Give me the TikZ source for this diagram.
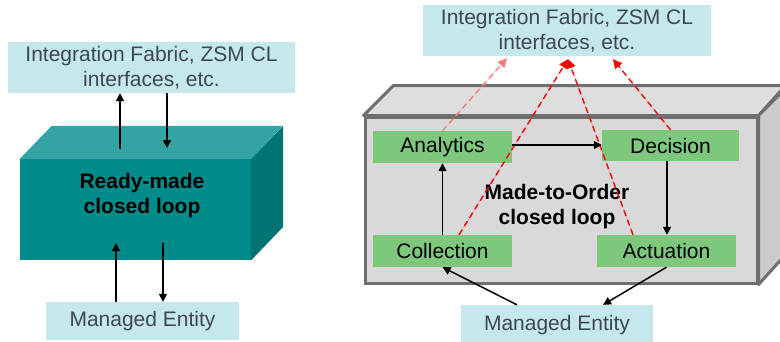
\documentclass[tikz,border=0pt]{standalone}
\usepackage{fontspec}
\setmainfont{Liberation Sans}
\usetikzlibrary{arrows.meta,calc}
\definecolor{fabricfill}{HTML}{C5E8EC}
\definecolor{fabrictext}{HTML}{3F4850}
\definecolor{tealfront}{HTML}{008B8B}
\definecolor{tealtop}{HTML}{33A3A3}
\definecolor{tealside}{HTML}{007373}
\definecolor{greyfront}{HTML}{D9D9D9}
\definecolor{greytop}{HTML}{DEDEDE}
\definecolor{greyside}{HTML}{CBCBCB}
\definecolor{greyedge}{HTML}{6F6F6F}
\definecolor{stagefill}{HTML}{7DC87D}
\definecolor{exposepink}{HTML}{FF7C7C}
\tikzset{
  every node/.style={font=\fontsize{21}{25}\selectfont},
  ifacebox/.style={
    fill=fabricfill,
    text=fabrictext,
    align=center,
    inner sep=0pt
  },
  stagebox/.style={
    fill=stagefill,
    text=black,
    inner sep=0pt,
    minimum width=139pt,
    minimum height=32pt
  },
  looplabel/.style={align=center, inner sep=0pt, font=\fontsize{21}{25}\selectfont\bfseries},
  flow/.style={line width=1.5pt, draw=black, -{Triangle[length=8pt,width=8pt]}},
  expose/.style={line width=1.4pt, draw=red, dash pattern=on 6pt off 4pt, -{Triangle[length=9pt,width=9pt]}}
}

\begin{document}
\begin{tikzpicture}[x=1pt,y=-1pt]
\clip (0,0) rectangle (780,341);
\fill[white] (0,0) rectangle (780,341);

% ready-made loop
\node[ifacebox, minimum width=287pt, minimum height=51pt] (rmfabric) at (151.5,67.5) {Integration Fabric, ZSM CL\\interfaces, etc.};
\node[fill=tealfront, inner sep=0pt, minimum width=231pt, minimum height=101pt] (rmloop) at (135.5,209.5) {};
\fill[tealtop] (rmloop.north west) -- ++(32,-33) -- ++(231,0) -- (rmloop.north east) -- cycle;
\fill[tealside] (rmloop.north east) -- ++(32,-33) -- ++(0,101) -- (rmloop.south east) -- cycle;
\node[looplabel] (rmlabel) at (142,196) {Ready-made\\closed loop};
\node[ifacebox, minimum width=193pt, minimum height=38pt] (rmentity) at (142.5,321) {Managed Entity};

\coordinate (rmout) at (120,149);
\coordinate (rmin) at (167,148);
\coordinate (rmsense) at (116,243);
\coordinate (rmact) at (163,243);
\draw[flow] (rmout) -- (rmout |- rmfabric.south);
\draw[flow] (rmin |- rmfabric.south) -- (rmin);
\draw[flow] (rmsense |- rmentity.north) -- (rmsense);
\draw[flow] (rmact) -- (rmact |- rmentity.north);

% made-to-order loop
\node[ifacebox, minimum width=288pt, minimum height=51pt] (mtfabric) at (567,30.5) {Integration Fabric, ZSM CL\\interfaces, etc.};
\node[draw=greyedge, fill=greyfront, line width=3pt, inner sep=0pt, minimum width=392pt, minimum height=166pt] (mtloop) at (561,200) {};
\filldraw[fill=greytop, draw=greyedge, line width=3pt, line join=round] (mtloop.north west) -- ++(30,-30) -- ++(392,0) -- (mtloop.north east) -- cycle;
\filldraw[fill=greyside, draw=greyedge, line width=3pt, line join=round] (mtloop.north east) -- ++(30,-30) -- ++(0,166) -- (mtloop.south east) -- cycle;
\node[looplabel] (mtlabel) at (557,207) {Made-to-Order\\closed loop};

\node[stagebox] (analytics) at (442.5,147) {Analytics};
\node[stagebox, minimum width=137pt, minimum height=31pt] (decision) at (670.5,145.5) {Decision};
\node[stagebox] (collect) at (442.5,251) {Collection};
\node[stagebox] (actuate) at (666.5,251) {Actuation};
\node[ifacebox, minimum width=192pt, minimum height=40pt] (mtentity) at (557,325) {Managed Entity};

\draw[expose, draw=exposepink, fill=exposepink] (analytics.north) -- ($(mtfabric.south)+(-60,2)$);
\draw[expose, fill=red] ($(collect.north)+(16.5,0)$) -- ($(mtfabric.south)+(1,3)$);
\draw[expose, fill=red] ($(actuate.north)+(-33.5,0)$) -- ($(mtfabric.south)+(1,3)$);
\draw[expose, fill=red] (decision.north) -- ($(mtfabric.south)+(46,3)$);

\draw[flow] (analytics.east |- 0,145) -- (decision.west |- 0,145);
\draw[flow] (decision.south -| 667,0) -- (actuate.north -| 667,0);
\draw[flow] (collect.north) -- (analytics.south);
\draw[flow] ($(mtentity.north)+(-40,0)$) -- (collect.south);
\draw[flow] (actuate.south) -- ($(mtentity.north)+(46,0)$);

\end{tikzpicture}
\end{document}
